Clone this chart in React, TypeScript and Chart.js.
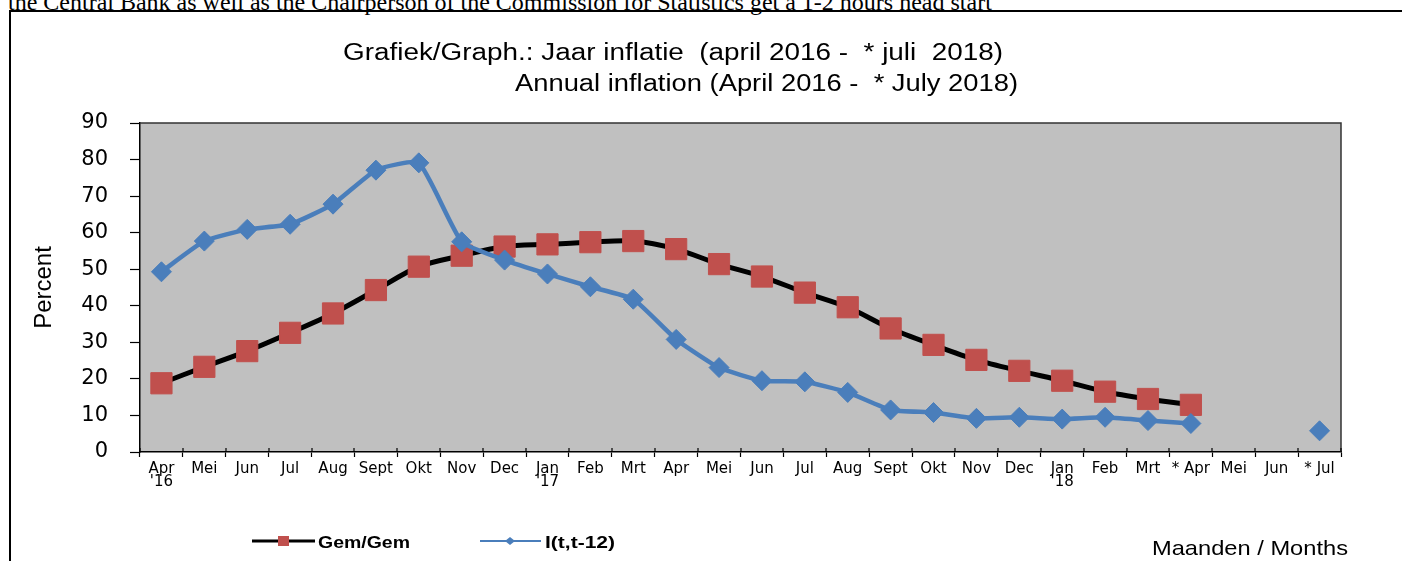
import React, { useEffect, useRef } from "react";
import { Chart, registerables } from "chart.js";

Chart.register(...registerables);

// ---------- data ----------
const months: (string | string[])[] = [
  ["Apr", "'16"], "Mei", "Jun", "Jul", "Aug", "Sept", "Okt", "Nov", "Dec",
  ["Jan", "'17"], "Feb", "Mrt", "Apr", "Mei", "Jun", "Jul", "Aug", "Sept", "Okt", "Nov", "Dec",
  ["Jan", "'18"], "Feb", "Mrt", "* Apr", "Mei", "Jun", "* Jul",
];

const gemGem: (number | null)[] = [
  18.8, 23.3, 27.6, 32.6, 37.9, 44.3, 50.7, 53.7, 56.2, 56.8, 57.4, 57.7,
  55.5, 51.4, 48.0, 43.6, 39.6, 33.8, 29.3, 25.2, 22.2, 19.5, 16.5, 14.5, 12.9,
  null, null, null,
];

const inflatie12: (number | null)[] = [
  49.3, 57.7, 60.9, 62.3, 67.8, 77.1, 79.1, 57.5, 52.5, 48.7, 45.2, 41.8,
  30.8, 23.1, 19.5, 19.2, 16.3, 11.5, 10.8, 9.2, 9.5, 9.0, 9.5, 8.6, 7.8,
  null, null, 5.8,
];

const yMin = 0;
const yMax = 90;
const yStep = 10;

const seriesNames = ["Gem/Gem", "I(t,t-12)"];
const titleLines = [
  "Grafiek/Graph.: Jaar inflatie  (april 2016 -  * juli  2018)",
  "Annual inflation (April 2016 -  * July 2018)",
];
const yTitle = "Percent";
const xTitle = "Maanden / Months";
const headerText =
  "the Central Bank as well as the Chairperson of the Commission for Statistics get a 1-2 hours head start";

// ---------- styles ----------
const SANS = '"Liberation Sans", Arial, Helvetica, sans-serif';
const TICKS = '"DejaVu Sans", Verdana, sans-serif';
const RED = "#C0504D";
const BLUE = "#4A7EBB";
const PLOT_BG = "#C0C0C0";

function drawFitted(
  ctx: CanvasRenderingContext2D,
  text: string,
  left: number,
  right: number,
  baseline: number,
  font: string,
  color = "#000"
) {
  ctx.save();
  ctx.font = font;
  const w = ctx.measureText(text).width;
  const sx = (right - left) / w;
  ctx.translate(left, baseline);
  ctx.scale(sx, 1);
  ctx.fillStyle = color;
  ctx.textAlign = "left";
  ctx.textBaseline = "alphabetic";
  ctx.fillText(text, 0, 0);
  ctx.restore();
}

const decorPlugin = {
  id: "decor",
  beforeDraw(chart: any) {
    const { ctx, chartArea: a } = chart;
    ctx.save();
    ctx.fillStyle = PLOT_BG;
    ctx.fillRect(a.left, a.top, a.right - a.left, a.bottom - a.top);
    ctx.restore();
  },
  beforeDatasetsDraw(chart: any) {
    const { ctx, chartArea: a } = chart;
    ctx.save();
    ctx.strokeStyle = "#333";
    ctx.lineWidth = 1.5;
    ctx.beginPath();
    ctx.moveTo(a.left, a.top);
    ctx.lineTo(a.right, a.top);
    ctx.lineTo(a.right, a.bottom);
    ctx.stroke();
    // x ticks crossing above the axis, as in the original
    const xs = chart.scales.x;
    const step = xs.getPixelForTick(1) - xs.getPixelForTick(0);
    ctx.strokeStyle = "#000";
    ctx.lineWidth = 1.2;
    ctx.beginPath();
    for (let i = 0; i <= xs.ticks.length; i++) {
      const px = Math.round(xs.getPixelForTick(0) + (i - 0.5) * step);
      ctx.moveTo(px, a.bottom);
      ctx.lineTo(px, a.bottom - 4);
    }
    ctx.stroke();
    ctx.restore();
  },
  afterDraw(chart: any) {
    const { ctx } = chart;
    // title
    drawFitted(ctx, titleLines[0], 343, 1003, 60, `23px ${SANS}`);
    drawFitted(ctx, titleLines[1], 515, 1018, 91, `23px ${SANS}`);

    // legend
    const ds = chart.data.datasets;
    const ly = 541;
    ctx.save();
    ctx.strokeStyle = ds[0].borderColor;
    ctx.lineWidth = 3;
    ctx.beginPath();
    ctx.moveTo(252, ly);
    ctx.lineTo(315, ly);
    ctx.stroke();
    ctx.fillStyle = ds[0].pointBackgroundColor;
    ctx.fillRect(278, ly - 5, 11, 10);
    ctx.restore();
    drawFitted(ctx, seriesNames[0], 318, 410, 548, `bold 16px ${SANS}`);

    ctx.save();
    ctx.strokeStyle = ds[1].borderColor;
    ctx.lineWidth = 2;
    ctx.beginPath();
    ctx.moveTo(480, ly);
    ctx.lineTo(541, ly);
    ctx.stroke();
    ctx.fillStyle = ds[1].pointBackgroundColor;
    ctx.beginPath();
    ctx.moveTo(510 - 5, ly);
    ctx.lineTo(510, ly - 4);
    ctx.lineTo(510 + 5, ly);
    ctx.lineTo(510, ly + 4);
    ctx.closePath();
    ctx.fill();
    ctx.restore();
    drawFitted(ctx, seriesNames[1], 545, 615, 548, `bold 16px ${SANS}`);

    // x axis title
    drawFitted(ctx, xTitle, 1152, 1348, 555, `21px ${SANS}`);
  },
};

function InflationChart() {
  const ref = useRef<HTMLCanvasElement | null>(null);

  useEffect(() => {
    if (!ref.current) return;
    const chart = new Chart(ref.current, {
      type: "line",
      data: {
        labels: months,
        datasets: [
          {
            label: seriesNames[0],
            data: gemGem,
            borderColor: "#000000",
            borderWidth: 5,
            pointStyle: "rect",
            pointRadius: 15,
            pointBorderWidth: 1,
            pointBackgroundColor: RED,
            pointBorderColor: RED,
            tension: 0.3,
            order: 1,
          },
          {
            label: seriesNames[1],
            data: inflatie12,
            borderColor: BLUE,
            borderWidth: 4.5,
            pointStyle: "rectRot",
            pointRadius: 10,
            pointBorderWidth: 1,
            pointBackgroundColor: BLUE,
            pointBorderColor: BLUE,
            tension: 0.15,
            order: 0,
          },
        ],
      },
      options: {
        responsive: false,
        animation: false,
        layout: { padding: { left: 0, top: 123, right: 61, bottom: 0 } },
        plugins: {
          legend: { display: false },
          title: { display: false },
          tooltip: { enabled: false },
        },
        scales: {
          x: {
            type: "category",
            offset: true,
            grid: {
              offset: true,
              drawOnChartArea: false,
              drawTicks: true,
              tickLength: 5,
              tickColor: "#000",
              tickWidth: 1.2,
            },
            border: { color: "#000", width: 1.5 },
            ticks: {
              autoSkip: false,
              maxRotation: 0,
              minRotation: 0,
              padding: 6,
              color: "#000",
              font: { family: TICKS, size: 15, lineHeight: "13px" },
            },
            afterFit(scale: any) {
              scale.height = 109;
            },
          },
          y: {
            min: yMin,
            max: yMax,
            ticks: {
              stepSize: yStep,
              padding: 22,
              color: "#000",
              font: { family: TICKS, size: 21 },
            },
            grid: {
              drawOnChartArea: false,
              tickLength: 10,
              tickColor: "#000",
              tickWidth: 1.2,
            },
            border: { color: "#000", width: 1.5 },
            title: {
              display: true,
              text: yTitle,
              color: "#000",
              font: { family: SANS, size: 24 },
              padding: { top: 30, bottom: 0 },
            },
            afterFit(scale: any) {
              scale.width = 140;
            },
          },
        },
      },
      plugins: [decorPlugin],
    });
    return () => chart.destroy();
  }, []);

  return (
    <canvas
      ref={ref}
      width={1402}
      height={561}
      style={{ position: "absolute", left: 0, top: 0, width: 1402, height: 561 }}
    />
  );
}

export default function App() {
  return (
    <div
      style={{
        position: "fixed",
        left: 0,
        top: 0,
        width: 1402,
        height: 561,
        overflow: "hidden",
        background: "#fff",
      }}
    >
      <div
        style={{
          position: "absolute",
          left: 8,
          top: -10,
          fontFamily: '"Liberation Serif", "Times New Roman", serif',
          fontSize: 24,
          lineHeight: "24px",
          whiteSpace: "nowrap",
          color: "#000",
        }}
      >
        {headerText}
      </div>
      <div
        style={{
          position: "absolute",
          left: 9,
          top: 10,
          width: 1402 - 9,
          height: 2,
          background: "#000",
        }}
      />
      <div
        style={{
          position: "absolute",
          left: 9,
          top: 10,
          width: 2,
          height: 561 - 10,
          background: "#000",
        }}
      />
      <InflationChart />
    </div>
  );
}
